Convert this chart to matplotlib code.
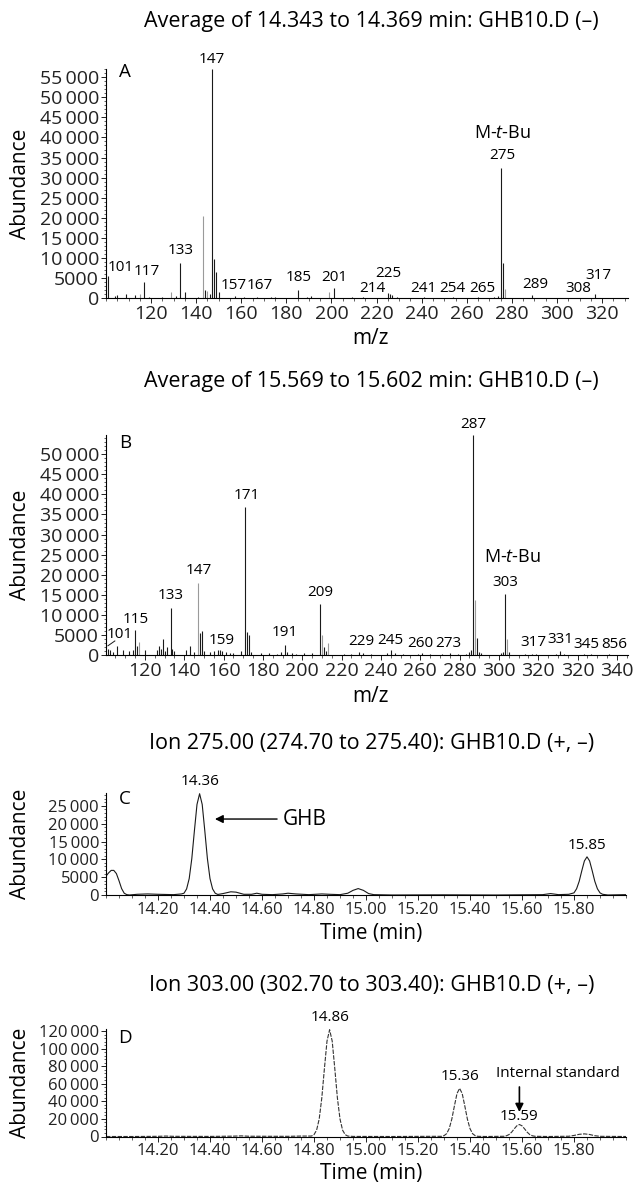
import matplotlib
matplotlib.use("Agg")
import matplotlib.pyplot as plt
from matplotlib.ticker import FixedLocator, MultipleLocator, FuncFormatter

plt.rcParams['font.family'] = ['Open Sans', 'DejaVu Sans']
plt.rcParams['mathtext.fontset'] = 'custom'
plt.rcParams['mathtext.rm'] = 'Open Sans'
plt.rcParams['mathtext.it'] = 'Open Sans:italic'

# ---- Panel A: average spectrum 14.343-14.369 min ----
a_mz = [101, 104, 105, 109, 113, 117, 119, 125, 131, 133, 135, 141, 144, 146,
        147, 148, 149, 150, 157, 161, 167, 173, 175, 185, 189, 191, 201, 209,
        214, 225, 226, 227, 229, 241, 247, 254, 259, 265, 269, 272, 274, 275,
        276, 289, 299, 308, 317]
a_int = [5500, 700, 900, 1000, 800, 4000, 300, 300, 600, 8700, 1500, 300, 2000, 1000,
         57000, 9700, 6500, 1500, 500, 300, 300, 300, 300, 2000, 300, 500, 2500, 300,
         400, 1300, 1200, 800, 400, 300, 200, 300, 200, 300, 200, 300, 600, 32300,
         8700, 800, 200, 200, 1200]
a_grey_mz = [115, 129, 143, 145, 199, 277]
a_grey_int = [1200, 1600, 20400, 1800, 1500, 2400]
a_labels = [("101", 106.7, 7800), ("117", 118.2, 6800), ("133", 132.9, 11800),
            ("147", 147.1, 59400), ("157", 156.7, 3350), ("167", 168.4, 3350),
            ("185", 185.3, 5300), ("201", 201.3, 5300), ("214", 218.2, 2600),
            ("225", 225.3, 6100), ("241", 240.9, 2600), ("254", 253.8, 2600),
            ("265", 266.7, 2600), ("275", 275.6, 35600), ("289", 290.2, 3600),
            ("308", 309.3, 2600), ("317", 318.2, 5800)]

# ---- Panel B: average spectrum 15.569-15.602 min ----
b_mz = [101, 102, 104, 106, 109, 112, 114, 115, 116, 120, 126, 127, 128, 129, 130,
        131, 133, 134, 135, 141, 143, 145, 148, 149, 150, 153, 155, 157, 158, 159,
        161, 163, 165, 169, 171, 172, 173, 174, 179, 183, 187, 189, 191, 192, 195,
        197, 201, 205, 209, 211, 212, 221, 225, 229, 231, 235, 243, 245, 247, 251,
        259, 261, 265, 271, 275, 279, 283, 285, 286, 287, 289, 290, 291, 301, 302,
        303, 305, 313, 317, 319, 329, 331, 333, 343, 347, 356]
b_int = [1500, 1200, 800, 2300, 1200, 900, 1300, 6200, 2200, 1200, 1300, 2200, 1500, 4000, 1000,
         2000, 11800, 1500, 1000, 1200, 2200, 800, 5500, 6000, 1000, 700, 900, 1200, 1300, 1000,
         700, 500, 400, 1000, 36800, 5800, 5000, 800, 500, 400, 300, 700, 2500, 800, 400,
         300, 500, 400, 12700, 2000, 1000, 300, 300, 700, 400, 300, 600, 1200, 400, 300,
         300, 400, 300, 300, 400, 300, 300, 800, 1200, 54700, 4200, 800, 400, 500, 800,
         15300, 800, 300, 300, 300, 300, 1000, 300, 200, 300, 200]
b_grey_mz = [117, 147, 210, 213, 288, 304]
b_grey_int = [3300, 18000, 5000, 3000, 13800, 4000]
b_labels = [("101", 107.3, 5000), ("115", 115.5, 8750), ("133", 133.2, 14750),
            ("147", 147.5, 21000), ("159", 159.2, 3500), ("171", 171.9, 39750),
            ("191", 191.2, 5500), ("209", 209.0, 15500), ("229", 229.8, 3250),
            ("245", 244.6, 3500), ("260", 259.8, 2750), ("273", 274.0, 2750),
            ("287", 286.8, 57500), ("303", 303.0, 18000), ("317", 317.3, 3000),
            ("331", 331.0, 3750), ("345", 344.2, 2500), ("856", 358.5, 2500)]
b_tick_pos = [120, 140, 160, 180, 200, 220, 240, 260, 280, 300, 320, 340, 360]
b_tick_text = ["120", "140", "160", "180", "200", "220", "240", "260", "280",
               "300", "320", "320", "340"]

# ---- Panel C: ion 275 chromatogram ----
c_time = [14.00, 14.01, 14.02, 14.03, 14.04, 14.05, 14.06, 14.07, 14.08, 14.09,
          14.12, 14.16, 14.20, 14.26, 14.29, 14.30, 14.31, 14.32, 14.33, 14.34,
          14.35, 14.36, 14.37, 14.38, 14.39, 14.40, 14.41, 14.42, 14.43, 14.45,
          14.48, 14.50, 14.53, 14.56, 14.58, 14.60, 14.64, 14.68, 14.70, 14.73,
          14.78, 14.83, 14.86, 14.90, 14.93, 14.95, 14.97, 14.99, 15.01, 15.03,
          15.10, 15.30, 15.50, 15.68, 15.71, 15.74, 15.78, 15.80, 15.81, 15.82,
          15.83, 15.84, 15.85, 15.86, 15.87, 15.88, 15.89, 15.90, 15.91, 15.93, 16.00]
c_abund = [5300, 6200, 6900, 6900, 6000, 4000, 1800, 500, 100, 0,
           200, 300, 200, 100, 300, 500, 1700, 4600, 10200, 18000,
           25400, 28400, 25400, 18000, 10200, 4600, 1700, 500, 150, 400,
           900, 800, 200, 200, 500, 200, 100, 300, 500, 300,
           100, 300, 200, 100, 500, 1300, 1800, 1300, 400, 100,
           0, 50, 0, 100, 400, 100, 200, 600, 1750, 3850,
           6800, 9550, 10700, 9550, 6800, 3850, 1750, 600, 200, 0, 100]

# ---- Panel D: ion 303 chromatogram ----
d_time = [14.00, 14.10, 14.20, 14.23, 14.26, 14.40, 14.49, 14.52, 14.55, 14.70,
          14.75, 14.79, 14.80, 14.81, 14.82, 14.83, 14.84, 14.85, 14.86, 14.87,
          14.88, 14.89, 14.90, 14.91, 14.92, 14.93, 14.95, 15.10, 15.25, 15.29,
          15.30, 15.31, 15.32, 15.33, 15.34, 15.35, 15.36, 15.37, 15.38, 15.39,
          15.40, 15.41, 15.42, 15.43, 15.46, 15.53, 15.54, 15.55, 15.56, 15.57,
          15.58, 15.59, 15.60, 15.61, 15.62, 15.63, 15.64, 15.65, 15.70, 15.78,
          15.80, 15.82, 15.84, 15.86, 15.88, 15.90, 16.00]
d_abund = [0, 0, 200, 500, 200, 100, 400, 700, 300, 200,
           500, 500, 2100, 7200, 20000, 44000, 77500, 109000, 122000, 109000,
           77500, 44000, 20000, 7200, 2100, 500, 100, 0, 200, 200,
           950, 3200, 9000, 19800, 34900, 49100, 55000, 49100, 34900, 19800,
           9000, 3200, 950, 200, 0, 250, 800, 2200, 4900, 8700,
           12200, 13700, 12200, 8700, 4900, 2200, 800, 250, 0, 300,
           1200, 2500, 3000, 2300, 900, 200, 0]

W, H = 636, 1183
fig = plt.figure(figsize=(W / 100, H / 100), dpi=100)


def frac(left, top, right, bottom):
    return [left / W, 1 - bottom / H, (right - left) / W, (bottom - top) / H]


def kfmt(v, pos):
    n = int(round(v))
    if n >= 10000:
        return f"{n:,}".replace(",", "\u2009")
    return str(n)


def style_axes(ax, tick_size, ymajor, yminor, xminor):
    for s in ['top', 'right']:
        ax.spines[s].set_visible(False)
    for s in ['left', 'bottom']:
        ax.spines[s].set_linewidth(0.8)
    ax.yaxis.set_major_locator(MultipleLocator(ymajor))
    ax.yaxis.set_minor_locator(MultipleLocator(yminor))
    ax.xaxis.set_minor_locator(MultipleLocator(xminor))
    ax.yaxis.set_major_formatter(FuncFormatter(kfmt))
    ax.tick_params(which='major', direction='out', length=3.5, width=0.7,
                   labelsize=tick_size, pad=1.5, colors='#222222')
    ax.tick_params(which='minor', direction='out', length=1.8, width=0.5,
                   colors='#222222')


title_x = 0.584
title_size = 15.5

# Panel A
axA = fig.add_axes(frac(106, 69, 628, 298.5))
axA.vlines(a_grey_mz, 0, a_grey_int, color='#9a9a9a', lw=0.8)
axA.vlines(a_mz, 0, a_int, color='#1a1a1a', lw=0.8)
axA.set_xlim(100, 331.5)
axA.set_ylim(0, 57000)
axA.set_xticks([120, 140, 160, 180, 200, 220, 240, 260, 280, 300, 320])
style_axes(axA, 14, 5000, 1000, 5)
for txt, x, y in a_labels:
    axA.text(x, y, txt, fontsize=11, ha='center', va='center', clip_on=False)
axA.text(275.6, 41000, 'M-$\\mathit{t}$-Bu', fontsize=13, ha='center', va='center')
axA.text(0.036, 0.987, 'A', transform=axA.transAxes, fontsize=13.5, ha='center', va='center')
fig.text(title_x, 1 - 22 / H, 'Average of 14.343 to 14.369 min: GHB10.D (\u2013)',
         fontsize=title_size, ha='center', va='center')

# Panel B
axB = fig.add_axes(frac(106, 435, 628, 655))
axB.vlines(b_grey_mz, 0, b_grey_int, color='#9a9a9a', lw=0.8)
axB.vlines(b_mz, 0, b_int, color='#1a1a1a', lw=0.8)
axB.plot([101.2, 104.7], [2300, 3500], color='#1a1a1a', lw=0.7)
axB.set_xlim(100.2, 365.6)
axB.set_ylim(0, 54800)
axB.xaxis.set_major_locator(FixedLocator(b_tick_pos))
axB.set_xticklabels(b_tick_text)
style_axes(axB, 14, 5000, 1000, 5)
for txt, x, y in b_labels:
    axB.text(x, y, txt, fontsize=11, ha='center', va='center', clip_on=False)
axB.text(306.6, 24500, 'M-$\\mathit{t}$-Bu', fontsize=13, ha='center', va='center')
axB.text(0.036, 0.964, 'B', transform=axB.transAxes, fontsize=13.5, ha='center', va='center')
fig.text(title_x, 1 - 382 / H, 'Average of 15.569 to 15.602 min: GHB10.D (\u2013)',
         fontsize=title_size, ha='center', va='center')

# Panel C
axC = fig.add_axes(frac(106, 793, 626, 895))
axC.plot(c_time, c_abund, color='#1a1a1a', lw=0.8)
axC.set_xlim(14.0, 16.0)
axC.set_ylim(0, 28600)
axC.set_xticks([14.2, 14.4, 14.6, 14.8, 15.0, 15.2, 15.4, 15.6, 15.8])
axC.xaxis.set_major_formatter(FuncFormatter(lambda v, p: f"{v:.2f}"))
style_axes(axC, 12, 5000, 1000, 0.05)
axC.text(14.362, 31700, '14.36', fontsize=11, ha='center', va='center', clip_on=False)
axC.text(15.85, 14000, '15.85', fontsize=11, ha='center', va='center')
axC.annotate('', xy=(14.419, 21300), xytext=(14.658, 21300),
             arrowprops=dict(arrowstyle='-|>', color='black', lw=1.0,
                             mutation_scale=12, shrinkA=0, shrinkB=0))
axC.text(14.68, 21300, 'GHB', fontsize=15, ha='left', va='center')
axC.text(0.037, 0.94, 'C', transform=axC.transAxes, fontsize=13.5, ha='center', va='center')
fig.text(title_x, 1 - 743 / H, 'Ion 275.00 (274.70 to 275.40): GHB10.D (+, \u2013)',
         fontsize=title_size, ha='center', va='center')

# Panel D
axD = fig.add_axes(frac(106, 1028.5, 626, 1136.5))
axD.plot(d_time, d_abund, color='#333333', lw=0.8, linestyle=(0, (4, 1.2)))
axD.set_xlim(14.0, 16.0)
axD.set_ylim(0, 123400)
axD.set_xticks([14.2, 14.4, 14.6, 14.8, 15.0, 15.2, 15.4, 15.6, 15.8])
axD.xaxis.set_major_formatter(FuncFormatter(lambda v, p: f"{v:.2f}"))
style_axes(axD, 12, 20000, 4000, 0.05)
axD.text(14.86, 136500, '14.86', fontsize=11, ha='center', va='center', clip_on=False)
axD.text(15.362, 69000, '15.36', fontsize=11, ha='center', va='center')
axD.text(15.59, 23400, '15.59', fontsize=11, ha='center', va='center')
axD.text(15.737, 72500, 'Internal standard', fontsize=11, ha='center', va='center')
axD.annotate('', xy=(15.59, 28000), xytext=(15.59, 56600),
             arrowprops=dict(arrowstyle='-|>', color='black', lw=1.2,
                             mutation_scale=12, shrinkA=0, shrinkB=0))
axD.text(0.037, 0.91, 'D', transform=axD.transAxes, fontsize=13.5, ha='center', va='center')
fig.text(title_x, 1 - 985 / H, 'Ion 303.00 (302.70 to 303.40): GHB10.D (+, \u2013)',
         fontsize=title_size, ha='center', va='center')

# axis labels
for ax, top, bottom, xlab, ylab_y in [(axA, 69, 298.5, 'm/z', 338),
                                      (axB, 435, 655, 'm/z', 697),
                                      (axC, 793, 895, 'Time (min)', 933),
                                      (axD, 1028.5, 1136.5, 'Time (min)', 1173)]:
    mid = (top + bottom) / 2
    fig.text(21 / W, 1 - mid / H, 'Abundance', rotation=90, fontsize=15,
             ha='center', va='center')
    fig.text(371 / W, 1 - ylab_y / H, xlab, fontsize=15, ha='center', va='center')

fig.savefig('out.png', dpi=100)
